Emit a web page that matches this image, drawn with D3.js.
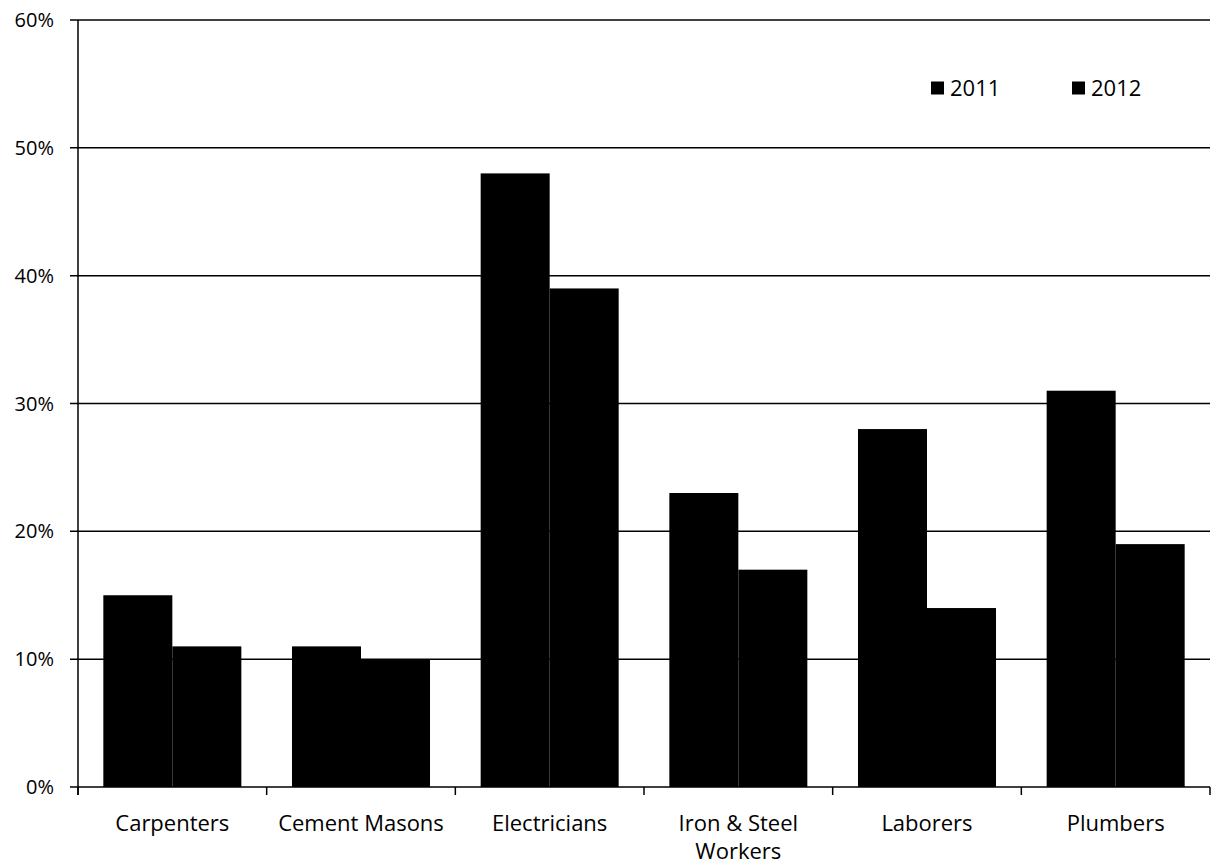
<!DOCTYPE html>
<html lang="en">
<head>
  <meta charset="UTF-8">
  <title>Chart</title>
  <script src="https://cdn.jsdelivr.net/npm/d3@7"></script>
  <style>
    body { margin: 0; background: #fff; }
    text { font-family: "Open Sans", Lato, sans-serif; fill: #000; }
  </style>
</head>
<body>
  <svg width="1225" height="865" id="chart"></svg>
  <script>
    const categories = ['Carpenters', 'Cement Masons', 'Electricians', 'Iron & Steel Workers', 'Laborers', 'Plumbers'];
    const years = ['2011', '2012'];
    const values2011 = [0.15, 0.11, 0.48, 0.23, 0.28, 0.31];
    const values2012 = [0.11, 0.10, 0.39, 0.17, 0.14, 0.19];
    const yTicks = [0, 0.1, 0.2, 0.3, 0.4, 0.5, 0.6];

    (() => {
      const svg = d3.select('#chart');
      const plotLeft = 78, plotRight = 1210, plotTop = 20, plotBottom = 787;

      const x0 = d3.scaleBand().domain(categories).range([plotLeft, plotRight]);
      const x1 = d3.scaleBand().domain(years).range([0, x0.bandwidth()])
        .paddingInner(0).paddingOuter(0.367);
      const y = d3.scaleLinear().domain([0, 0.6]).range([plotBottom, plotTop]);

      // gridlines
      svg.append('g')
        .selectAll('line')
        .data(yTicks)
        .enter()
        .append('line')
        .attr('x1', plotLeft - 8)
        .attr('x2', plotRight)
        .attr('y1', d => y(d))
        .attr('y2', d => y(d))
        .attr('stroke', '#000')
        .attr('stroke-width', 1.5);

      // y labels
      svg.append('g')
        .selectAll('text')
        .data(yTicks)
        .enter()
        .append('text')
        .attr('x', 54)
        .attr('y', d => y(d))
        .attr('dy', '0.35em')
        .attr('text-anchor', 'end')
        .attr('font-size', '20px')
        .text(d3.format('.0%'));

      // bars
      const rows = categories.map((c, i) => ({ cat: c, vals: [values2011[i], values2012[i]] }));
      const groups = svg.append('g')
        .selectAll('g')
        .data(rows)
        .enter()
        .append('g')
        .attr('transform', d => `translate(${x0(d.cat)},0)`);

      groups.selectAll('rect')
        .data(d => d.vals.map((v, j) => ({ year: years[j], v: v })))
        .enter()
        .append('rect')
        .attr('x', d => x1(d.year))
        .attr('width', x1.bandwidth())
        .attr('y', d => y(d.v))
        .attr('height', d => y(0) - y(d.v))
        .attr('fill', '#000');

      // axis lines
      svg.append('line')
        .attr('x1', plotLeft).attr('x2', plotLeft)
        .attr('y1', plotTop).attr('y2', plotBottom + 8)
        .attr('stroke', '#000').attr('stroke-width', 1.5);

      const bounds = categories.map(c => x0(c)).concat([plotRight]);
      svg.append('g')
        .selectAll('line')
        .data(bounds)
        .enter()
        .append('line')
        .attr('x1', d => d).attr('x2', d => d)
        .attr('y1', plotBottom).attr('y2', plotBottom + 8)
        .attr('stroke', '#000').attr('stroke-width', 1.5);

      // x labels, long one on two lines
      const labelLines = {
        'Iron & Steel Workers': ['Iron & Steel', 'Workers']
      };
      const xl = svg.append('g')
        .selectAll('text')
        .data(categories)
        .enter()
        .append('text')
        .attr('text-anchor', 'middle')
        .attr('font-size', '22px')
        .attr('x', d => x0(d) + x0.bandwidth() / 2)
        .attr('y', 831);
      xl.each(function (d) {
        const lines = labelLines[d] || [d];
        lines.forEach((t, i) => {
          d3.select(this).append('tspan')
            .attr('x', x0(d) + x0.bandwidth() / 2)
            .attr('dy', i === 0 ? 0 : 28)
            .text(t);
        });
      });

      // legend
      const legendX = [931, 1072];
      const legend = svg.append('g')
        .selectAll('g')
        .data(years)
        .enter()
        .append('g')
        .attr('transform', (d, i) => `translate(${legendX[i]}, 88)`);
      legend.append('rect')
        .attr('x', 0).attr('y', -6.5)
        .attr('width', 13).attr('height', 13)
        .attr('fill', '#000');
      legend.append('text')
        .attr('x', 19)
        .attr('dy', '0.35em')
        .attr('font-size', '22px')
        .text(d => d);
    })();
  </script>
</body>
</html>
